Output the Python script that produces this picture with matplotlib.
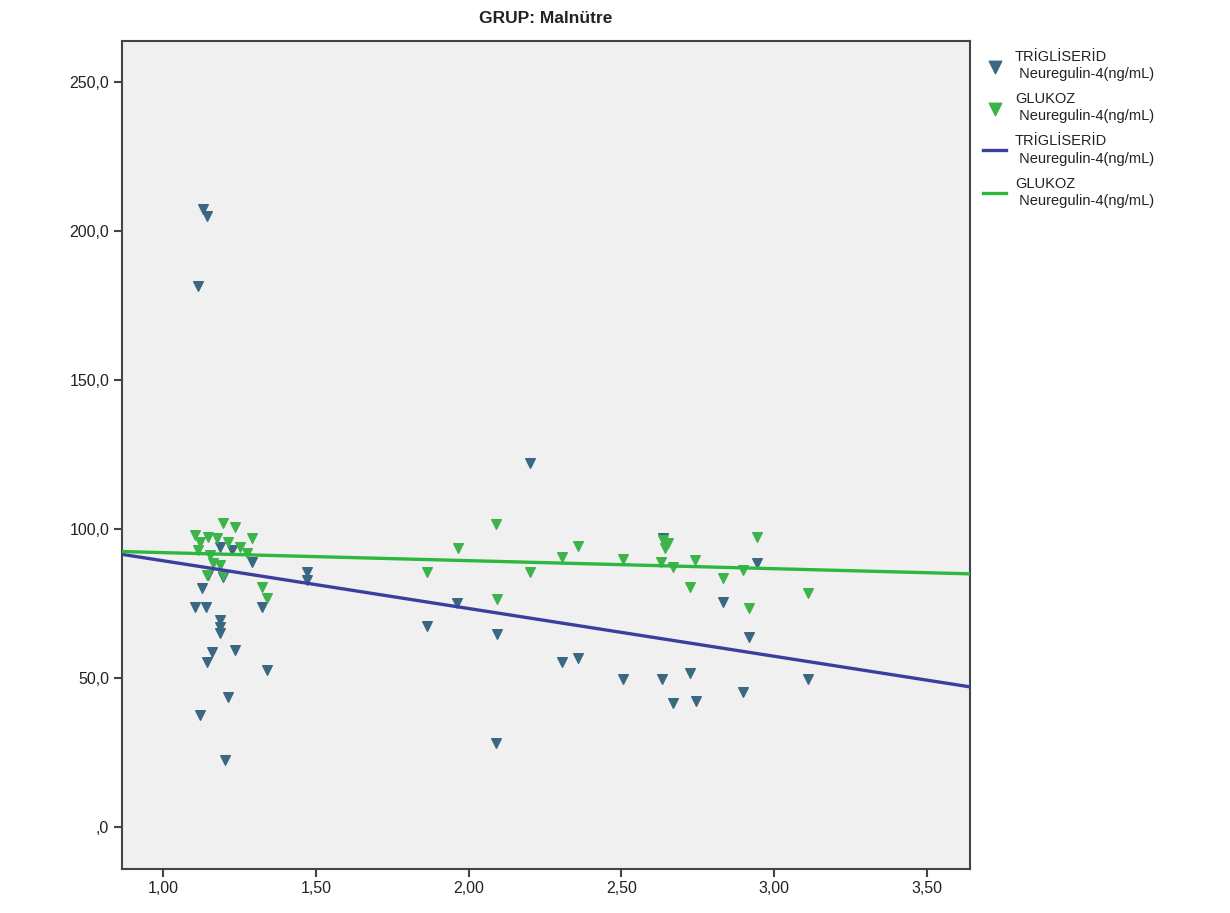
import matplotlib
matplotlib.use("Agg")
import matplotlib.pyplot as plt
from matplotlib.ticker import FuncFormatter
import numpy as np

plt.rcParams["font.family"] = ["Liberation Sans", "DejaVu Sans"]

# TRİGLİSERİD vs Neuregulin-4
trig_x = [1.131, 1.144, 1.115, 2.201, 1.105, 1.141, 1.128, 1.187, 1.187, 1.187,
          1.160, 1.144, 1.236, 1.340, 1.213, 1.121, 1.203, 1.187, 1.226, 1.291,
          1.324, 1.471, 1.471, 1.147, 1.196,
          1.962, 1.864, 2.093, 2.306, 2.358, 2.505, 2.633, 2.724, 2.669, 2.744,
          2.090, 2.636, 2.944, 2.832, 2.918, 3.111, 2.898]
trig_y = [207.4, 205.0, 181.5, 122.1, 73.8, 73.8, 80.2, 69.5, 67.1, 65.1,
          58.7, 55.4, 59.4, 52.7, 43.6, 37.6, 22.5, 94.0, 93.0, 88.9,
          73.8, 85.6, 82.9, 84.6, 83.9,
          75.2, 67.4, 64.8, 55.4, 56.7, 49.7, 49.7, 51.7, 41.6, 42.3,
          28.2, 97.0, 88.6, 75.5, 63.8, 49.7, 45.3]

# GLUKOZ vs Neuregulin-4
gluk_x = [1.196, 1.236, 1.105, 1.147, 1.177, 1.121, 1.291, 1.213, 1.275, 1.164,
          1.187, 1.144, 1.196, 1.324, 1.340, 1.115, 1.154, 1.252,
          2.090, 1.965, 2.358, 2.306, 2.505, 2.636, 2.652, 2.643, 2.741, 1.864,
          2.201, 2.724, 2.093, 2.630, 2.669, 2.944, 2.898, 2.832, 3.111, 2.918]
gluk_y = [102.0, 100.7, 98.0, 97.3, 97.0, 95.6, 97.0, 95.6, 91.9, 88.6,
          87.9, 84.6, 84.6, 80.5, 76.8, 93.0, 91.3, 94.0,
          101.7, 93.6, 94.3, 90.6, 89.9, 96.3, 95.3, 93.6, 89.6, 85.6,
          85.6, 80.5, 76.5, 88.9, 87.2, 97.3, 86.2, 83.6, 78.5, 73.5]

# fit lines (intercept, slope)
trig_fit = (105.4, -16.03)
gluk_fit = (94.8, -2.70)

xlim = (0.865, 3.641)
ylim = (-14.1, 263.8)
xticks = [1.0, 1.5, 2.0, 2.5, 3.0, 3.5]
yticks = [0, 50, 100, 150, 200, 250]

trig_color = "#3a6883"
gluk_color = "#3cb44a"
trig_line = "#3a3f9e"
gluk_line = "#2cb83c"

fig = plt.figure(figsize=(12.3, 9.13), dpi=100)
ax = fig.add_axes([0.099, 0.0482, 0.6896, 0.9068])
ax.set_facecolor("#f0f0f0")

ax.scatter(trig_x, trig_y, marker="v", s=48, color=trig_color, zorder=3,
           label="TRİGLİSERİD\n Neuregulin-4(ng/mL)")
ax.scatter(gluk_x, gluk_y, marker="v", s=48, color=gluk_color, zorder=3,
           label="GLUKOZ\n Neuregulin-4(ng/mL)")

xs = np.array(xlim)
ax.plot(xs, trig_fit[0] + trig_fit[1] * xs, color=trig_line, lw=2.4, zorder=4,
        label="TRİGLİSERİD\n Neuregulin-4(ng/mL)")
ax.plot(xs, gluk_fit[0] + gluk_fit[1] * xs, color=gluk_line, lw=2.4, zorder=4,
        label="GLUKOZ\n Neuregulin-4(ng/mL)")

ax.set_xlim(*xlim)
ax.set_ylim(*ylim)
ax.set_xticks(xticks)
ax.set_yticks(yticks)
ax.xaxis.set_major_formatter(FuncFormatter(lambda v, p: f"{v:.2f}".replace(".", ",")))


def yfmt(v, p):
    s = f"{v:.1f}".replace(".", ",")
    return s[1:] if s.startswith("0") else s


ax.yaxis.set_major_formatter(FuncFormatter(yfmt))
ax.tick_params(direction="out", length=6, width=1.5, color="#444444",
               labelsize=11.5, labelcolor="#222222", pad=3)
for sp in ax.spines.values():
    sp.set_color("#444444")
    sp.set_linewidth(1.5)

ax.set_title("GRUP: Malnütre", fontsize=12.5, fontweight="bold", color="#222222", pad=13)

leg = ax.legend(loc="upper left", bbox_to_anchor=(1.005, 1.0), frameon=False,
                fontsize=10.5, handlelength=1.6, handletextpad=0.6,
                labelspacing=0.75, borderaxespad=0.2, markerscale=1.3)
for t in leg.get_texts():
    t.set_color("#222222")
    t.set_linespacing(1.3)

fig.savefig("out.png", dpi=100)
